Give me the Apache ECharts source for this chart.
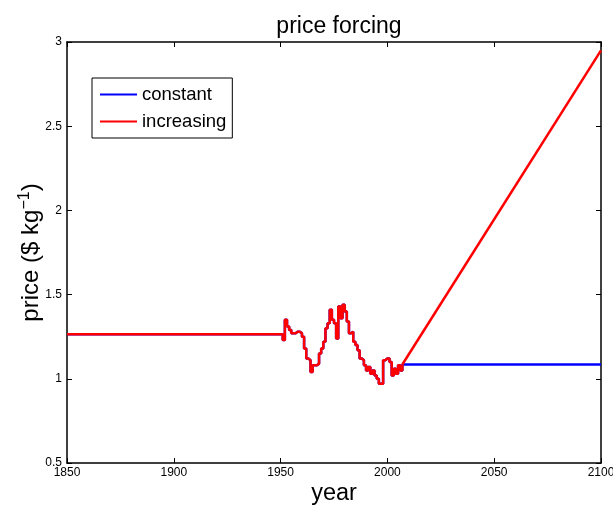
<!DOCTYPE html>
<html>
<head>
<meta charset="utf-8">
<script src="https://cdn.jsdelivr.net/npm/echarts@6/dist/echarts.min.js"></script>
<style>
  html, body { margin: 0; padding: 0; background: #fff; }
  #chart { width: 613px; height: 506px; }
</style>
</head>
<body>
<div id="chart"></div>
<script>
// Historical annual price record (step series), shared by both scenarios
const histYears = [1850, 1950, 1951, 1952, 1953, 1954, 1955, 1956, 1957, 1958, 1959,
  1960, 1961, 1962, 1963, 1964, 1965, 1966, 1967, 1968, 1969,
  1970, 1971, 1972, 1973, 1974, 1975, 1976, 1977, 1978, 1979,
  1980, 1981, 1982, 1983, 1984, 1985, 1986, 1987, 1988, 1989,
  1990, 1991, 1992, 1993, 1994, 1995, 1996, 1997, 1998, 1999,
  2000, 2001, 2002, 2003, 2004, 2005, 2006, 2007];
const histPrice = [1.265, 1.265, 1.23, 1.35, 1.31, 1.29, 1.27, 1.27, 1.28, 1.28, 1.27,
  1.25, 1.18, 1.12, 1.11, 1.04, 1.08, 1.08, 1.09, 1.15, 1.18,
  1.22, 1.30, 1.33, 1.41, 1.35, 1.33, 1.24, 1.43, 1.36, 1.44,
  1.40, 1.34, 1.27, 1.28, 1.22, 1.20, 1.17, 1.12, 1.11, 1.08,
  1.05, 1.07, 1.03, 1.05, 1.02, 1.00, 0.97, 0.97, 1.11, 1.12,
  1.12, 1.10, 1.02, 1.06, 1.03, 1.08, 1.05, 1.085];

// Future scenarios: start and end of the projection
const futureYears = [2007, 2100];
const constantFuture = [1.085, 1.085];
const increasingFuture = [1.085, 2.95];

// Axis ticks
const xTicks = { min: 1850, max: 2100, interval: 50 };
const yTicks = { min: 0.5, max: 3, interval: 0.5 };

const FONT = '"Liberation Sans", Arial, Helvetica, sans-serif';
const BLUE = '#0000ff';
const RED = '#ff0000';

const histPairs = histYears.map((y, i) => [y, histPrice[i]]);
const constantPairs = histPairs.concat([[futureYears[1], constantFuture[1]]]);
const rampPairs = futureYears.map((y, i) => [y, increasingFuture[i]]);

const axisLine = { show: true, onZero: false, lineStyle: { color: '#000', width: 1.5 } };
const axisTick = { show: true, inside: true, length: 5, lineStyle: { color: '#000', width: 1 } };

const chart = echarts.init(document.getElementById('chart'), null, { renderer: 'canvas' });
chart.setOption({
  animation: false,
  backgroundColor: '#fff',
  title: {
    text: 'price forcing',
    left: 334, textAlign: 'center', top: 10,
    textStyle: { fontFamily: FONT, fontSize: 23, fontWeight: 'normal', color: '#000' }
  },
  grid: { left: 67, right: 12, top: 42, bottom: 43, outerBoundsMode: 'none', containLabel: false },
  legend: {
    orient: 'vertical',
    left: 92, top: 78,
    padding: [7, 6, 7, 8],
    itemGap: 8,
    itemWidth: 37, itemHeight: 2,
    icon: 'rect',
    borderColor: '#000', borderWidth: 1,
    backgroundColor: '#fff',
    textStyle: { fontFamily: FONT, fontSize: 18.5, color: '#000' },
    data: ['constant', 'increasing']
  },
  xAxis: [{
    type: 'value', min: xTicks.min, max: xTicks.max, interval: xTicks.interval,
    name: 'year', nameLocation: 'middle', nameGap: 19, nameMoveOverlap: false,
    nameTextStyle: { fontFamily: FONT, fontSize: 23.5, color: '#000' },
    axisLine, axisTick,
    axisLabel: { fontFamily: FONT, fontSize: 12, color: '#000', margin: 4, formatter: v => String(v) },
    splitLine: { show: false }
  }, {
    type: 'value', position: 'top', min: xTicks.min, max: xTicks.max, interval: xTicks.interval,
    axisLine, axisTick, axisLabel: { show: false }, splitLine: { show: false }
  }],
  yAxis: [{
    type: 'value', min: yTicks.min, max: yTicks.max, interval: yTicks.interval,
    name: '{a|price ($ kg}{s|−1}{a|)}', nameLocation: 'middle', nameGap: 22, nameMoveOverlap: false,
    nameTextStyle: {
      color: '#000',
      rich: {
        a: { fontFamily: FONT, fontSize: 24, color: '#000' },
        s: { fontFamily: FONT, fontSize: 16, color: '#000', verticalAlign: 'top', padding: [0, 0, 12, 0] }
      }
    },
    axisLine, axisTick,
    axisLabel: { fontFamily: FONT, fontSize: 12, color: '#000', margin: 5, formatter: v => String(v) },
    splitLine: { show: false }
  }, {
    type: 'value', position: 'right', min: yTicks.min, max: yTicks.max, interval: yTicks.interval,
    axisLine, axisTick, axisLabel: { show: false }, splitLine: { show: false }
  }],
  series: [{
    name: 'constant', type: 'line', step: 'end', showSymbol: false,
    color: BLUE, lineStyle: { color: BLUE, width: 2.5 },
    data: constantPairs
  }, {
    name: 'increasing', type: 'line', step: 'end', showSymbol: false,
    color: RED, lineStyle: { color: RED, width: 2.5 },
    data: histPairs
  }, {
    name: 'increasing', type: 'line', showSymbol: false,
    color: RED, lineStyle: { color: RED, width: 2.5 },
    data: rampPairs
  }]
});
</script>
</body>
</html>
